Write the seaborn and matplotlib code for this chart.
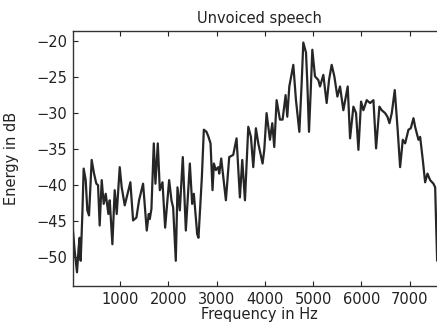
import matplotlib
matplotlib.use("Agg")
import matplotlib.pyplot as plt
import seaborn as sns
import pandas as pd

# Spectrum of an unvoiced speech frame
freq_hz = [25, 59, 108, 142, 163, 184, 219, 246, 288, 322, 357, 412, 461, 509, 544,
           578, 620, 661, 703, 758, 786, 841, 889, 931, 993, 1034, 1097, 1214, 1270,
           1339, 1394, 1477, 1553, 1595, 1616, 1650, 1699, 1733, 1782, 1824, 1879,
           1934, 2017, 2065, 2100, 2155, 2190, 2238, 2300, 2363, 2446, 2494, 2529,
           2598, 2625, 2695, 2736, 2791, 2833, 2875, 2916, 2944, 2985, 3034, 3055,
           3096, 3193, 3262, 3345, 3414, 3483, 3532, 3588, 3657, 3712, 3760, 3815,
           3864, 3953, 3988, 4036, 4106, 4154, 4195, 4244, 4313, 4368, 4430, 4465,
           4507, 4590, 4645, 4715, 4763, 4797, 4853, 4880, 4915, 4949, 4984, 5039,
           5108, 5143, 5212, 5281, 5330, 5385, 5440, 5503, 5558, 5627, 5717, 5766,
           5835, 5890, 5939, 5994, 6042, 6111, 6181, 6250, 6305, 6374, 6423, 6492,
           6540, 6582, 6630, 6692, 6755, 6803, 6858, 6907, 6976, 7024, 7080, 7114,
           7183, 7218, 7273, 7321, 7370, 7425, 7494, 7529, 7570]
energy_db = [-46.3, -49.1, -52.1, -48.7, -47.3, -50.5, -44.0, -37.7, -39.3, -43.5,
             -44.2, -36.5, -38.4, -39.8, -40.0, -45.6, -39.3, -42.6, -41.2, -44.0,
             -42.1, -48.2, -40.7, -44.0, -37.5, -40.3, -42.8, -39.6, -44.9, -44.5,
             -42.1, -39.8, -46.3, -44.0, -44.7, -43.3, -34.2, -39.8, -34.2, -40.7,
             -39.6, -45.9, -39.3, -42.1, -43.1, -50.5, -40.3, -43.5, -36.1, -46.3,
             -37.0, -42.6, -41.2, -46.8, -47.3, -38.9, -32.3, -32.6, -33.3, -34.2,
             -40.7, -37.0, -37.9, -37.5, -38.4, -36.3, -42.1, -36.1, -35.8, -33.5,
             -41.7, -36.5, -42.1, -31.9, -33.3, -37.5, -32.1, -34.2, -37.0, -35.1,
             -30.0, -33.7, -31.4, -34.7, -28.2, -30.9, -30.9, -27.5, -30.5, -26.3,
             -23.3, -28.2, -32.6, -25.8, -20.2, -21.6, -25.8, -32.6, -27.2, -21.2,
             -24.9, -25.4, -26.3, -24.7, -28.6, -25.4, -23.3, -24.9, -27.7, -26.3,
             -29.6, -26.3, -33.5, -29.1, -30.0, -35.1, -28.4, -29.6, -28.2, -28.6,
             -28.2, -34.9, -29.1, -29.6, -30.0, -30.5, -31.4, -30.0, -26.8, -32.6,
             -37.5, -33.7, -34.2, -32.3, -32.1, -30.7, -31.9, -33.7, -33.3, -36.5,
             -39.6, -38.4, -39.3, -39.8, -40.3, -50.5]

x_ticks = [1000, 2000, 3000, 4000, 5000, 6000, 7000]
y_ticks = [-50, -45, -40, -35, -30, -25, -20]

sns.set_style("ticks")
plt.rcParams["font.family"] = ["DejaVu Sans"]

df = pd.DataFrame({"Frequency": freq_hz, "Energy": energy_db})

fig = plt.figure(figsize=(4.37, 3.22), dpi=100)
ax = fig.add_axes([73 / 437, 36 / 322, (445 - 73) / 437, 255 / 322])

sns.lineplot(data=df, x="Frequency", y="Energy", ax=ax, color="#262626",
             linewidth=1.6, estimator=None, sort=False)

ax.set_xlim(25, 7733)
ax.set_ylim(-54.0, -18.6)
ax.set_xticks(x_ticks)
ax.set_yticks(y_ticks)
ax.tick_params(direction="in", length=3.5, width=0.8, top=True, right=True,
               labelsize=10.5, colors="#222222", pad=4)
for s in ax.spines.values():
    s.set_linewidth(1.0)
    s.set_color("#333333")
    s.set_visible(True)

ax.set_title("Unvoiced speech", fontsize=10.5, color="#222222", pad=6)
ax.set_xlabel("Frequency in Hz", fontsize=10.5, color="#222222")
ax.set_ylabel("Energy in dB", fontsize=10.5, color="#222222")
ax.xaxis.set_label_coords(0.5, -0.083)
ax.yaxis.set_label_coords(-0.145, 0.5)

fig.savefig("out.png", dpi=100)
